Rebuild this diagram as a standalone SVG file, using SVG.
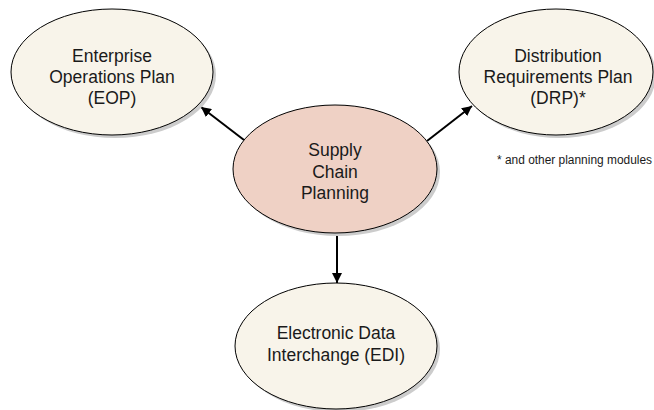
<svg xmlns="http://www.w3.org/2000/svg" width="654" height="410" viewBox="0 0 654 410">
<defs>
<marker id="ah" viewBox="0 0 10 10" refX="10" refY="5" markerWidth="5" markerHeight="5" orient="auto" markerUnits="strokeWidth">
<path d="M0,0 L10,5 L0,10 z" fill="#000"/>
</marker>
</defs>
<style>
.node{fill:#F8F4EA;stroke:#000;stroke-width:1}
.core{fill:#EFD1C5;stroke:#000;stroke-width:1}
.shadow{fill:#CCCCCC}
.lbl{font-family:"Liberation Sans",Arial,sans-serif;font-size:17.5px;fill:#1a1a1a;text-anchor:middle}
.note{font-family:"Liberation Sans",Arial,sans-serif;font-size:12px;fill:#1a1a1a}
.conn{stroke:#000;stroke-width:2;fill:none;marker-end:url(#ah)}
</style>
<rect width="654" height="410" fill="#fff"/>
<g id="connectors">
<line class="conn" x1="244" y1="140" x2="201" y2="107"/>
<line class="conn" x1="427" y1="141" x2="472" y2="106"/>
<line class="conn" x1="337" y1="233" x2="337" y2="283"/>
</g>
<g id="eop">
<ellipse class="shadow" cx="115" cy="75" rx="101" ry="63"/>
<ellipse class="node" cx="112" cy="72" rx="101" ry="63"/>
<text class="lbl" x="112" y="61.5">Enterprise</text>
<text class="lbl" x="112" y="82.5">Operations Plan</text>
<text class="lbl" x="112" y="103.5">(EOP)</text>
</g>
<g id="drp">
<ellipse class="shadow" cx="559" cy="75" rx="97" ry="63"/>
<ellipse class="node" cx="556" cy="72" rx="97" ry="63"/>
<text class="lbl" x="558" y="61.5">Distribution</text>
<text class="lbl" x="558" y="82.5">Requirements Plan</text>
<text class="lbl" x="558" y="103.5">(DRP)*</text>
</g>
<g id="note">
<text class="note" x="497" y="164" textLength="155" lengthAdjust="spacingAndGlyphs">* and other planning modules</text>
</g>
<g id="scp">
<ellipse class="shadow" cx="338" cy="172" rx="102" ry="64"/>
<ellipse class="core" cx="335" cy="169" rx="102" ry="64"/>
<text class="lbl" x="335" y="156">Supply</text>
<text class="lbl" x="335" y="178">Chain</text>
<text class="lbl" x="335" y="199">Planning</text>
</g>
<g id="edi">
<ellipse class="shadow" cx="339" cy="349" rx="101" ry="63"/>
<ellipse class="node" cx="336" cy="346" rx="101" ry="63"/>
<text class="lbl" x="336" y="339">Electronic Data</text>
<text class="lbl" x="336" y="361">Interchange (EDI)</text>
</g>
</svg>
